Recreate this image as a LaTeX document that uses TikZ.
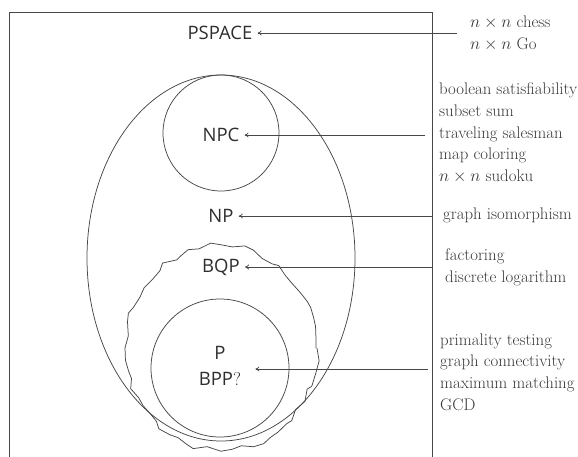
\documentclass[tikz,border=0pt]{standalone}
\usepackage{fontspec}
\newfontfamily\labelfont{Open Sans}
\usetikzlibrary{arrows.meta,decorations.pathmorphing}

\tikzset{
  setline/.style={draw=black!72, line width=0.75pt},
  arr/.style={draw=black!72, line width=0.75pt, -{To[length=4pt,width=5pt]}},
  cls/.style={font=\labelfont\fontsize{18.5}{26}\selectfont, text=black!82,
              inner xsep=5pt, inner ysep=1pt, align=center},
  probs/.style={font=\fontsize{16.8}{21.8}\selectfont, text=black!78,
                anchor=west, align=left, inner sep=0pt}
}

\begin{document}
\begin{tikzpicture}[x=1pt,y=-1pt]
\useasboundingbox (0,0) rectangle (578,456);

% outer PSPACE box, running off the bottom edge
\begin{scope}
  \clip (0,0) rectangle (578,456);
  \draw[setline] (9,12) rectangle (432,470);
\end{scope}

% NP region and the NP-complete disc
\draw[setline] (221,258) ellipse [x radius=134pt, y radius=183pt];
\draw[setline] (221,133) circle [radius=58pt];

% BQP with a ragged border
\pgfmathsetseed{11}
\draw[setline, decorate,
      decoration={random steps, segment length=10pt, amplitude=3.4pt}]
  (221,348) ellipse [x radius=95pt, y radius=102pt];

% P circle
\draw[setline] (220,368) circle [radius=69pt];

% class labels
\node[cls] (pspace) at (220,33) {PSPACE};
\node[cls] (npc) at (221,135) {NPC};
\node[cls] (np) at (221,216) {NP};
\node[cls] (bqp) at (221,267) {BQP};
\node[cls, inner xsep=14pt] (pbpp) at (220,366) {P\\BPP{\rmfamily ?}};

% problem lists
\node[probs] (games) at (470,33) {$n\times n$ chess\\$n\times n$ Go};
\node[probs] (npcprob) at (439,133) {boolean satisfiability\\subset sum\\traveling salesman\\map coloring\\$n\times n$ sudoku};
\node[probs] (npprob) at (443,215) {graph isomorphism};
\node[probs] (bqpprob) at (445,267) {factoring\\discrete logarithm};
\node[probs] (pprob) at (440,372) {primality testing\\graph connectivity\\maximum matching\\GCD};

% arrow tails
\coordinate (ta) at (457,33);
\coordinate (tb) at (425,135);
\coordinate (tc) at (432,216);
\coordinate (td) at (432,267);
\coordinate (te) at (428,369);

\draw[arr] (ta) -- (ta -| pspace.east);
\draw[arr] (tb) -- (tb -| npc.east);
\draw[arr] (tc) -- (tc -| np.east);
\draw[arr] (td) -- (td -| bqp.east);
\draw[arr] (te) -- (te -| pbpp.east);
\end{tikzpicture}
\end{document}
